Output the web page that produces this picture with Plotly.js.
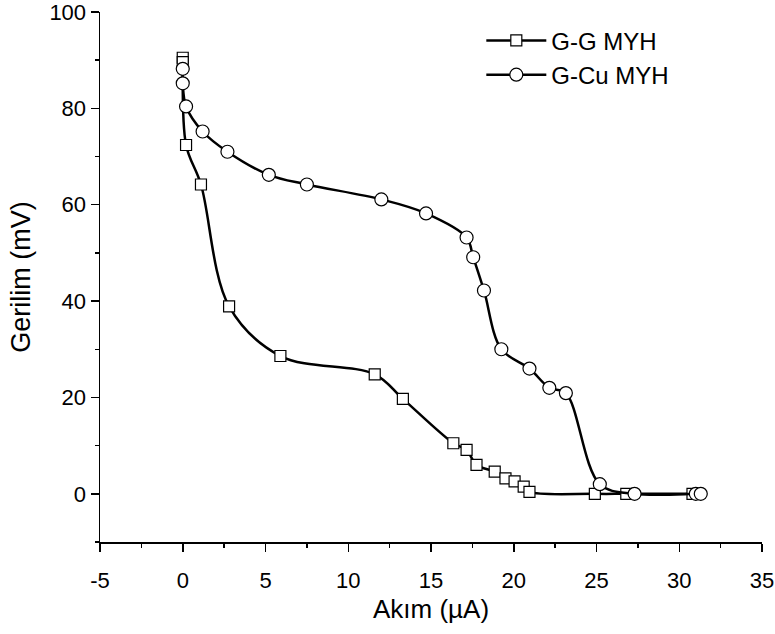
<!DOCTYPE html>
<html>
<head>
<meta charset="utf-8">
<script src="https://cdn.plot.ly/plotly-3.0.1.min.js"></script>
<style>html,body{margin:0;padding:0;background:#fff;}#chart{width:775px;height:634px;}</style>
</head>
<body>
<div id="chart"></div>
<script>
// G-G MYH (squares)
const ggX = [0, 0, 0.2, 1.1, 2.8, 5.9, 11.6, 13.3, 16.35, 17.15, 17.75, 18.85, 19.5, 20.05, 20.6, 20.95, 24.9, 26.8, 30.8];
const ggY = [90.5, 89.6, 72.4, 64.2, 38.9, 28.6, 24.8, 19.7, 10.5, 9.1, 6.0, 4.6, 3.2, 2.6, 1.5, 0.4, 0, 0, 0];
// G-Cu MYH (circles)
const cuX = [0, 0, 0.2, 1.2, 2.7, 5.2, 7.5, 12.0, 14.7, 17.15, 17.55, 18.2, 19.25, 20.95, 22.15, 23.15, 25.2, 27.3, 31.0, 31.3];
const cuY = [88.2, 85.2, 80.4, 75.2, 71.0, 66.2, 64.2, 61.1, 58.2, 53.2, 49.1, 42.2, 30.0, 26.0, 22.0, 20.9, 2.0, 0, 0, 0];

const seriesNames = ["G-G MYH", "G-Cu MYH"];
const xTicks = [-5, 0, 5, 10, 15, 20, 25, 30, 35];
const yTicks = [0, 20, 40, 60, 80, 100];

const FONT = "Liberation Sans, Arial, sans-serif";

const traces = [
  {
    x: ggX, y: ggY, name: seriesNames[0], type: "scatter", mode: "lines+markers",
    line: {color: "#000", width: 2.5, shape: "spline", smoothing: 1},
    marker: {symbol: "square", size: 11, color: "#fff", line: {color: "#000", width: 1.2}}
  },
  {
    x: cuX, y: cuY, name: seriesNames[1], type: "scatter", mode: "lines+markers",
    line: {color: "#000", width: 2.5, shape: "spline", smoothing: 1},
    marker: {symbol: "circle", size: 13, color: "#fff", line: {color: "#000", width: 1.2}}
  }
];

const layout = {
  width: 775, height: 634,
  margin: {l: 100, r: 13, t: 12, b: 92},
  paper_bgcolor: "#fff", plot_bgcolor: "#fff",
  font: {family: FONT, color: "#000", size: 20},
  showlegend: true,
  legend: {
    x: 0.576, y: 0.988, xanchor: "left", yanchor: "top",
    bgcolor: "rgba(0,0,0,0)", borderwidth: 0,
    font: {family: FONT, size: 24, color: "#000"},
    itemwidth: 60, tracegroupgap: 0
  },
  xaxis: {
    range: [-5, 35], tickvals: xTicks, ticktext: xTicks.map(String),
    showgrid: false, zeroline: false, showline: true, linecolor: "#000", linewidth: 1.5,
    ticks: "outside", ticklen: 8, tickwidth: 1.5, tickcolor: "#000", ticklabelstandoff: 10,
    ticklabeloverflow: "allow",
    minor: {dtick: 2.5, tick0: 0, ticks: "outside", ticklen: 4, tickwidth: 1.5, tickcolor: "#000", showgrid: false},
    tickfont: {family: FONT, size: 22, color: "#000"},
    title: {text: "Akım (µA)", font: {family: FONT, size: 26, color: "#000"}, standoff: 8}
  },
  yaxis: {
    range: [-10, 100], tickvals: yTicks, ticktext: yTicks.map(String),
    showgrid: false, zeroline: false, showline: true, linecolor: "#000", linewidth: 1.5,
    ticks: "outside", ticklen: 8, tickwidth: 1.5, tickcolor: "#000",
    ticklabeloverflow: "allow",
    minor: {dtick: 10, tick0: 0, ticks: "outside", ticklen: 4, tickwidth: 1.5, tickcolor: "#000", showgrid: false},
    tickfont: {family: FONT, size: 22, color: "#000"},
    title: {text: "Gerilim (mV)", font: {family: FONT, size: 27, color: "#000"}, standoff: 11}
  }
};

Plotly.newPlot("chart", traces, layout, {staticPlot: true, displayModeBar: false});
</script>
</body>
</html>
